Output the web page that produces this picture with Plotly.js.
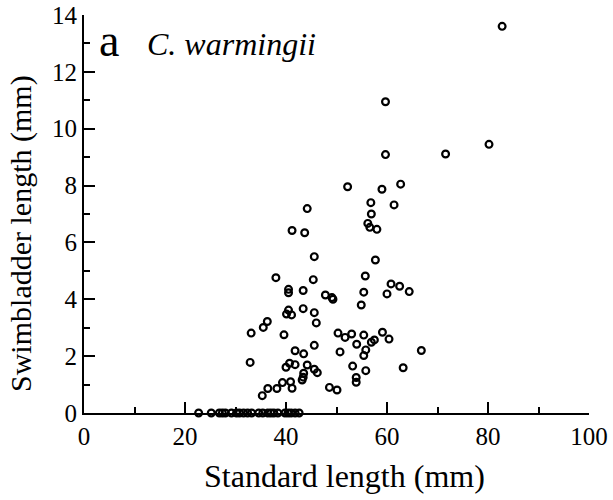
<!DOCTYPE html>
<html>
<head>
<meta charset="utf-8">
<script src="https://cdn.plot.ly/plotly-3.0.1.min.js"></script>
<style>html,body{margin:0;padding:0;background:#fff;}</style>
</head>
<body>
<div id="chart" style="width:613px;height:500px;"></div>
<script>
// Standard length (mm) and swimbladder length (mm) of C. warmingii
const standardLength = [
  82.8, 59.7, 59.7, 71.6, 80.2, 52.2, 59.0, 62.7, 44.2, 41.2,
  43.7, 45.6, 38.0, 45.4, 40.5, 40.5, 43.4, 47.8, 49.1, 49.3,
  56.8, 61.4, 56.9, 56.2, 56.6, 58.0, 57.7, 55.7, 60.8, 62.5,
  64.4, 55.4, 60.0, 40.5, 40.1, 41.1, 43.4, 45.6, 46.0, 36.3,
  35.5, 33.1, 39.6, 50.3, 51.7, 41.8, 43.5, 45.6, 50.7, 32.9,
  40.7, 41.8, 40.0, 44.2, 45.6, 46.2, 43.5, 43.4, 43.2, 39.3,
  40.9, 41.2, 38.2, 36.4, 35.3, 48.6, 50.1, 54.9, 53.0, 55.4,
  59.1, 60.4, 54.0, 56.9, 57.5, 55.8, 55.4, 66.8, 53.2, 55.8,
  63.2, 53.9, 53.9,
  22.7, 25.2, 26.8, 27.4, 28.0, 29.2, 30.2, 30.8, 31.6, 32.4,
  33.2, 34.6, 35.4, 36.4, 37.0, 37.6, 38.4, 39.8, 40.4, 41.0,
  41.8, 42.6
];
const swimbladderLength = [
  13.6, 10.95, 9.09, 9.11, 9.45, 7.96, 7.87, 8.05, 7.19, 6.42,
  6.34, 5.50, 4.76, 4.69, 4.35, 4.23, 4.31, 4.15, 4.06, 4.00,
  7.40, 7.32, 7.00, 6.67, 6.53, 6.46, 5.38, 4.82, 4.54, 4.46,
  4.27, 4.25, 4.19, 3.62, 3.48, 3.45, 3.67, 3.53, 3.17, 3.22,
  3.01, 2.81, 2.75, 2.81, 2.66, 2.19, 2.08, 2.38, 2.15, 1.78,
  1.75, 1.70, 1.61, 1.69, 1.54, 1.42, 1.40, 1.26, 1.16, 1.07,
  1.10, 0.87, 0.86, 0.86, 0.61, 0.90, 0.81, 3.80, 2.78, 2.74,
  2.84, 2.60, 2.42, 2.49, 2.57, 2.22, 2.02, 2.20, 1.65, 1.49,
  1.59, 1.25, 1.08,
  0, 0, 0, 0, 0, 0, 0, 0, 0, 0,
  0, 0, 0, 0, 0, 0, 0, 0, 0, 0,
  0, 0
];
const xTicks = [0, 20, 40, 60, 80, 100];
const yTicks = [0, 2, 4, 6, 8, 10, 12, 14];
const xTitle = "Standard length (mm)";
const yTitle = "Swimbladder length (mm)";
const panelLabel = "a";
const speciesLabel = "<i>C. warmingii</i>";

const serif = "Liberation Serif";

const trace = {
  type: "scatter",
  mode: "markers",
  x: standardLength,
  y: swimbladderLength,
  cliponaxis: false,
  marker: {symbol: "circle-open", size: 6.8, color: "#000", line: {width: 2.2, color: "#000"}},
  hoverinfo: "x+y"
};

const axisCommon = {
  showgrid: false,
  zeroline: false,
  showline: true,
  linecolor: "#000",
  linewidth: 2,
  ticks: "inside",
  ticklen: 11,
  tickwidth: 2,
  tickcolor: "#000",
  tickfont: {family: serif, size: 25, color: "#000"}
};

const layout = {
  width: 613,
  height: 500,
  margin: {l: 84, r: 24, t: 15, b: 87},
  paper_bgcolor: "#fff",
  plot_bgcolor: "#fff",
  showlegend: false,
  font: {family: serif, color: "#000"},
  xaxis: Object.assign({}, axisCommon, {
    range: [0, 100],
    tickmode: "array",
    tickvals: xTicks,
    ticktext: xTicks.map(String),
    minor: {dtick: 10, tick0: 0, ticks: "inside", ticklen: 6, tickwidth: 2, tickcolor: "#000"}
  }),
  yaxis: Object.assign({}, axisCommon, {
    range: [0, 14],
    tickmode: "array",
    tickvals: yTicks,
    ticktext: yTicks.map(String),
    minor: {dtick: 1, tick0: 0, ticks: "inside", ticklen: 6, tickwidth: 2, tickcolor: "#000"}
  }),
  annotations: [
    {xref: "paper", yref: "paper", x: 0.515, y: -0.158, xanchor: "center", yanchor: "middle",
     text: xTitle, showarrow: false, font: {family: serif, size: 32, color: "#000"}},
    {xref: "paper", yref: "paper", x: -0.125, y: 0.452, xanchor: "center", yanchor: "middle",
     textangle: -90, text: yTitle, showarrow: false, font: {family: serif, size: 30, color: "#000"}},
    {xref: "paper", yref: "paper", x: 0.025, y: 0.937, xanchor: "left", yanchor: "middle",
     text: panelLabel, showarrow: false, font: {family: serif, size: 46, color: "#000"}},
    {xref: "paper", yref: "paper", x: 0.12, y: 0.928, xanchor: "left", yanchor: "middle",
     text: speciesLabel, showarrow: false, font: {family: serif, size: 32, color: "#000"}}
  ]
};

Plotly.newPlot("chart", [trace], layout, {displayModeBar: false, staticPlot: true});
</script>
</body>
</html>
